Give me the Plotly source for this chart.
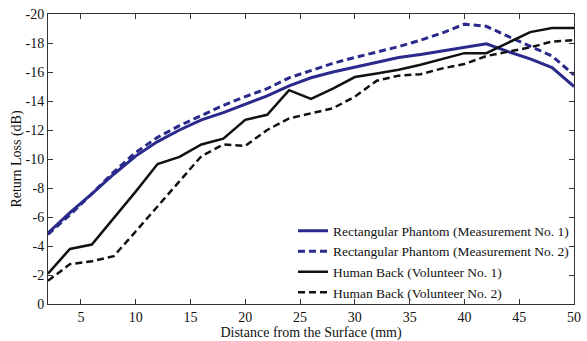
import plotly.graph_objects as go

# Distance from the surface (mm)
distance_mm = [2, 4, 6, 8, 10, 12, 14, 16, 18, 20, 22, 24, 26,
               28, 30, 32, 34, 36, 38, 40, 42, 44, 46, 48, 50]

# Return loss (dB) for each measurement
phantom_meas1 = [-4.9, -6.3, -7.6, -8.95, -10.2, -11.2, -12.0, -12.7, -13.2, -13.8, -14.35, -15.05, -15.6,
                 -16.0, -16.35, -16.7, -17.0, -17.2, -17.45, -17.65, -17.95, -17.4, -16.9, -16.3, -15.0]
phantom_meas2 = [-4.8, -6.15, -7.6, -9.1, -10.45, -11.5, -12.3, -13.0, -13.7, -14.3, -14.85, -15.6, -16.1,
                 -16.6, -17.0, -17.35, -17.75, -18.2, -18.7, -19.3, -19.15, -18.45, -17.8, -17.1, -15.8]
back_vol1 = [-2.1, -3.8, -4.1, -5.9, -7.75, -9.65, -10.15, -11.0, -11.4, -12.7, -13.05, -14.75, -14.15,
             -14.85, -15.65, -15.9, -16.15, -16.5, -16.9, -17.3, -17.3, -18.0, -18.75, -19.03, -19.03]
back_vol2 = [-1.6, -2.75, -2.95, -3.3, -5.0, -6.75, -8.5, -10.2, -11.0, -10.9, -12.0, -12.8, -13.15,
             -13.5, -14.3, -15.4, -15.75, -15.85, -16.25, -16.55, -17.1, -17.4, -17.7, -18.1, -18.2]

series_names = ["Rectangular Phantom (Measurement No. 1)",
                "Rectangular Phantom (Measurement No. 2)",
                "Human Back (Volunteer No. 1)",
                "Human Back (Volunteer No. 2)"]

x_ticks = [5, 10, 15, 20, 25, 30, 35, 40, 45, 50]
y_ticks = [0, -2, -4, -6, -8, -10, -12, -14, -16, -18, -20]
y_tick_text = ["0", "-2", "-4", "-6", "-8", "-10", "-12", "-14", "-16", "-18", "-20"]

NAVY = "#2a2a8c"
BLACK = "#111111"
DASH = "7px,4px"

fig = go.Figure()
styles = [
    (phantom_meas1, NAVY, "solid", 3),
    (phantom_meas2, NAVY, DASH, 3),
    (back_vol1, BLACK, "solid", 2.5),
    (back_vol2, BLACK, DASH, 2.5),
]
for name, (vals, color, dash, width) in zip(series_names, styles):
    fig.add_trace(go.Scatter(
        x=distance_mm, y=vals, mode="lines", name=name,
        line=dict(color=color, dash=dash, width=width),
    ))

FONT = "Liberation Serif"
axis_common = dict(
    showgrid=False, zeroline=False, showline=True, linecolor="#333333", linewidth=1,
    mirror="ticks", ticks="inside", ticklen=5, tickcolor="#333333",
    tickfont=dict(family=FONT, size=14, color="#111111"),
)

fig.update_layout(
    width=587, height=341,
    margin=dict(l=48, r=6, t=14, b=32),
    paper_bgcolor="white", plot_bgcolor="white",
    font=dict(family=FONT, size=14, color="#111111"),
    showlegend=True,
    legend=dict(
        x=1.0, y=-0.015, xanchor="right", yanchor="bottom",
        bgcolor="rgba(255,255,255,0)", borderwidth=0,
        font=dict(family=FONT, size=13.5, color="#111111"),
        tracegroupgap=0, itemwidth=30,
    ),
    xaxis=dict(
        range=[2, 50], tickvals=x_ticks,
        title=dict(text="Distance from the Surface (mm)", standoff=0,
                   font=dict(family=FONT, size=14)),
        **axis_common,
    ),
    yaxis=dict(
        range=[0, -20], tickvals=y_ticks, ticktext=y_tick_text,
        title=dict(text="Return Loss (dB)", standoff=0,
                   font=dict(family=FONT, size=14)),
        **axis_common,
    ),
)

fig.write_html("out.html")
